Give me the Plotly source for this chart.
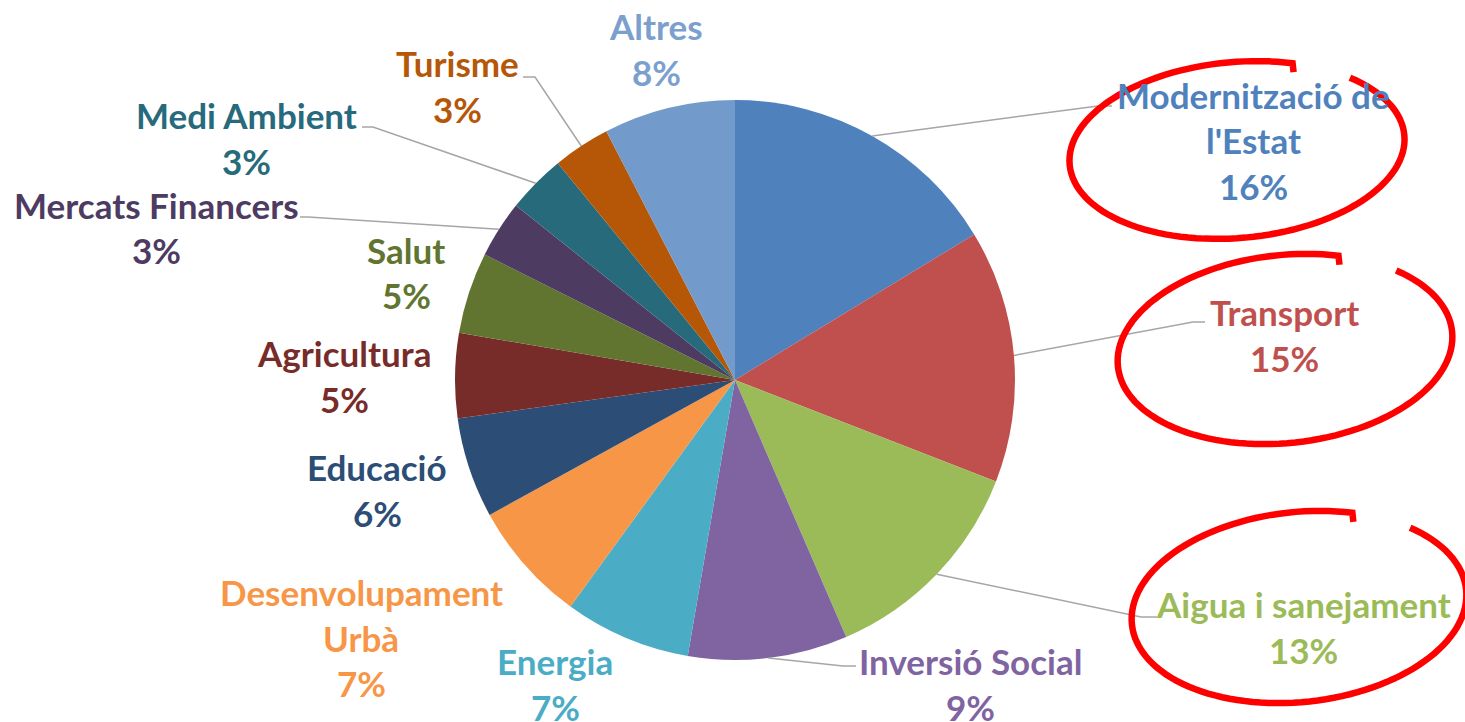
import math
import plotly.graph_objects as go

# ---------------- data ----------------
categories = ["Modernització de l'Estat", "Transport", "Aigua i sanejament",
              "Inversió Social", "Energia", "Desenvolupament Urbà", "Educació",
              "Agricultura", "Salut", "Mercats Financers", "Medi Ambient",
              "Turisme", "Altres"]
values = [16.3, 14.6, 12.6, 9.2, 7.3, 7.0, 5.8, 4.9, 4.7, 3.3, 3.4, 3.3, 7.6]
label_lines = [["Modernització de", "l'Estat"], ["Transport"], ["Aigua i sanejament"],
               ["Inversió Social"], ["Energia"], ["Desenvolupament", "Urbà"], ["Educació"],
               ["Agricultura"], ["Salut"], ["Mercats Financers"], ["Medi Ambient"],
               ["Turisme"], ["Altres"]]
colors = ["#4F81BD", "#C0504D", "#9BBB59", "#8064A2", "#4BACC6", "#F79646", "#2C4D75",
          "#772C2A", "#617530", "#4D3B62", "#276A7C", "#B65708", "#729ACA"]
text_colors = ["#4F81BD", "#C0504D", "#9BBB59", "#8064A2", "#4BACC6", "#F79646", "#2C4D75",
               "#772C2A", "#617530", "#4D3B62", "#276A7C", "#B65708", "#7BA0CD"]

# ---------------- layout constants (pixels) ----------------
W, H = 1465, 722
PIE_L, PIE_R, PIE_T, PIE_B = 455, 1015, 100, 660
LINE_GAP = 45.5
FONT_SIZE = 35
# label anchor: centre x, centre y of first line
label_pos = [(1253, 95), (1284, 312), (1303, 604), (970, 661), (555, 661), (361, 592),
             (377, 467), (344, 353), (406, 250), (156, 205), (246, 115), (457, 63), (656, 26)]
# leader lines: (elbow, end) or None
leaders = [((1098, 106), (1112, 106)), ((1193, 322), (1205, 322)), ((1141, 617), (1157, 617)),
           ((843, 666), (856, 666)), None, None, None, None, None,
           ((308, 217), (300, 217)), ((373, 127), (362, 127)), ((535, 77), (523, 77)), None]
# red hand-drawn loops: cx, cy, rx, ry, tilt(deg)
loops = [(1237, 150, 168, 88, -5), (1285, 349, 168, 94, -6), (1299, 607, 168, 95, -6)]


def px(x):
    return x / W


def py(y):
    return 1 - y / H


fig = go.Figure()
fig.add_trace(go.Pie(
    values=values, labels=categories, sort=False, direction="clockwise", rotation=0,
    textinfo="none", hoverinfo="label+percent",
    marker=dict(colors=colors, line=dict(width=0)),
    domain=dict(x=[px(PIE_L), px(PIE_R)], y=[py(PIE_B), py(PIE_T)]),
    showlegend=False,
))

total = sum(values)
cx0 = (PIE_L + PIE_R) / 2
cy0 = (PIE_T + PIE_B) / 2
rad = min(PIE_R - PIE_L, PIE_B - PIE_T) / 2

annotations = []
shapes = []
cum = 0.0
for i, v in enumerate(values):
    mid = (cum + v / 2) / total * 2 * math.pi
    cum += v
    pct = f"{round(v / total * 100)}%"
    lines = label_lines[i] + [pct]
    lx, ly = label_pos[i]
    for k, t in enumerate(lines):
        annotations.append(dict(
            x=px(lx), y=py(ly + k * LINE_GAP), xref="paper", yref="paper",
            text=t, showarrow=False, xanchor="center", yanchor="middle",
            font=dict(family="Lato", size=FONT_SIZE, color=text_colors[i], weight="bold"),
        ))
    if leaders[i] is not None:
        sx = cx0 + rad * math.sin(mid)
        sy = cy0 - rad * math.cos(mid)
        (ex1, ey1), (ex2, ey2) = leaders[i]
        path = f"M {px(sx)} {py(sy)} L {px(ex1)} {py(ey1)} L {px(ex2)} {py(ey2)}"
        shapes.append(dict(type="path", path=path, xref="paper", yref="paper",
                           line=dict(color="#A6A6A6", width=1.5)))

# red loops
for (cx, cy, rx, ry, tilt) in loops:
    ph = math.radians(tilt)
    pts = []
    t0, t1 = -45, 292
    n = 120
    for j in range(n + 1):
        t = math.radians(t0 + (t1 - t0) * j / n)
        xx, yy = rx * math.cos(t), ry * math.sin(t)
        X = cx + xx * math.cos(ph) - yy * math.sin(ph)
        Y = cy + xx * math.sin(ph) + yy * math.cos(ph)
        pts.append((X, Y))
    lxp, lyp = pts[-1]
    pts.append((lxp + 1, lyp + 9))
    path = "M " + " L ".join(f"{px(a)} {py(b)}" for a, b in pts)
    shapes.append(dict(type="path", path=path, xref="paper", yref="paper",
                       line=dict(color="#FF0000", width=6.5)))

fig.update_layout(
    width=W, height=H, margin=dict(l=0, r=0, t=0, b=0),
    paper_bgcolor="white", plot_bgcolor="white",
    annotations=annotations, shapes=shapes,
)
fig.write_html("out.html", config=dict(displayModeBar=False),
               post_script="document.body.style.margin='0';document.body.style.overflow='hidden';")
